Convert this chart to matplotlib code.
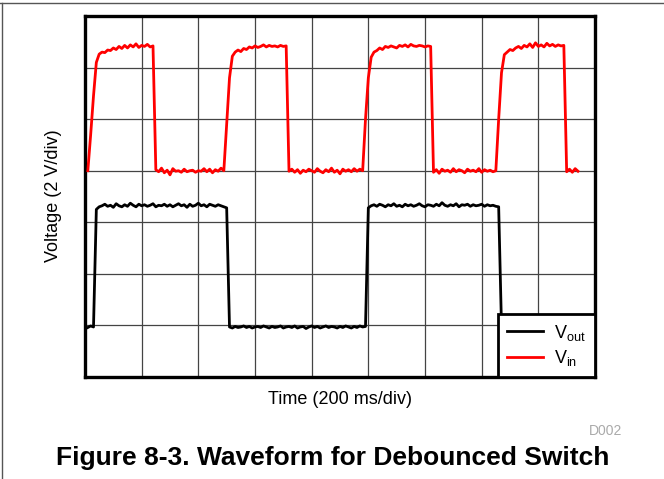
import numpy as np
import matplotlib
matplotlib.use("Agg")
import matplotlib.pyplot as plt
from matplotlib.lines import Line2D

plt.rcParams['font.family'] = ['Liberation Sans', 'DejaVu Sans']
plt.rcParams['mathtext.fontset'] = 'custom'
plt.rcParams['mathtext.rm'] = 'Liberation Sans'
plt.rcParams['mathtext.it'] = 'Liberation Sans'

# scope samples, time in divisions (200 ms/div), voltage in divisions (2 V/div)
T0 = 0.05
DT = 0.05

vin = [
    # first pulse
    4.00, 4.70, 5.45, 6.10, 6.26, 6.30, 6.29, 6.34, 6.33, 6.38, 6.35, 6.41,
    6.37, 6.43, 6.38, 6.44, 6.40, 6.46, 6.39, 6.43, 6.41, 6.45, 6.40, 6.42,
    # low
    4.02, 3.98, 4.05, 3.96, 4.01, 3.92, 4.04, 3.99, 4.00, 3.97, 4.03, 3.98,
    4.00, 4.01, 3.97, 4.00, 3.99, 4.04, 3.98, 4.03, 3.96, 4.02, 3.99, 4.05, 4.00,
    # second pulse
    4.90, 5.80, 6.22, 6.30, 6.34, 6.31, 6.37, 6.35, 6.40, 6.38, 6.42, 6.39,
    6.41, 6.44, 6.40, 6.43, 6.41, 6.42, 6.40, 6.43, 6.41, 6.42,
    # low
    3.99, 4.03, 3.97, 4.02, 3.95, 4.01, 3.98, 4.03, 4.00, 3.97, 4.04, 3.99,
    3.96, 4.02, 3.98, 4.05, 3.97, 4.01, 3.94, 4.03, 3.99, 4.02, 3.98, 4.04,
    3.99, 4.03, 4.00,
    # third pulse
    5.00, 5.80, 6.20, 6.30, 6.33, 6.38, 6.35, 6.41, 6.39, 6.42, 6.40, 6.38,
    6.43, 6.41, 6.44, 6.40, 6.45, 6.42, 6.41, 6.43, 6.42, 6.40, 6.42, 6.41,
    # low
    3.97, 4.02, 3.95, 4.03, 3.99, 4.01, 3.97, 4.04, 3.98, 4.02, 4.00, 3.96,
    4.03, 3.99, 4.01, 3.98, 4.04, 3.97, 4.02, 3.99, 4.01, 3.98, 4.00,
    # fourth pulse
    5.00, 5.90, 6.25, 6.30, 6.35, 6.33, 6.38, 6.41, 6.37, 6.43, 6.40, 6.46,
    6.39, 6.48, 6.41, 6.44, 6.40, 6.47, 6.42, 6.45, 6.41, 6.44, 6.42, 6.43,
    # low
    3.98, 4.03, 3.97, 4.04, 3.99,
]

vout = [
    0.96, 0.99, 0.97,
    # high
    3.25, 3.30, 3.32, 3.35, 3.31, 3.33, 3.29, 3.36, 3.32, 3.30,
    3.34, 3.31, 3.37, 3.33, 3.30, 3.35, 3.32, 3.34, 3.31, 3.33,
    3.36, 3.30, 3.33, 3.32, 3.35, 3.31, 3.34, 3.30, 3.33, 3.36,
    3.32, 3.34, 3.29, 3.35, 3.31, 3.33, 3.37, 3.32, 3.34, 3.30,
    3.35, 3.33, 3.31, 3.34, 3.32, 3.30, 3.28,
    # low
    0.97, 0.95, 0.98, 0.96, 0.97, 0.99, 0.96, 0.98, 0.95, 0.97,
    0.98, 0.96, 0.99, 0.97, 0.95, 0.98, 0.96, 0.97, 0.99, 0.95,
    0.97, 0.98, 0.96, 0.99, 0.95, 0.97, 0.98, 0.94, 0.97, 0.99,
    0.96, 0.98, 0.95, 0.97, 0.99, 0.96, 0.98, 0.97, 0.95, 0.98,
    0.96, 0.99, 0.97, 0.95, 0.98, 0.96, 0.99, 0.97, 0.98,
    # high
    3.28, 3.32, 3.34, 3.31, 3.35, 3.33, 3.30, 3.34, 3.32, 3.36,
    3.31, 3.33, 3.30, 3.35, 3.32, 3.34, 3.31, 3.33, 3.36, 3.32,
    3.30, 3.34, 3.33, 3.31, 3.35, 3.32, 3.38, 3.33, 3.31, 3.34,
    3.32, 3.36, 3.30, 3.34, 3.33, 3.35, 3.31, 3.34, 3.32, 3.33,
    3.35, 3.31, 3.34, 3.32, 3.33, 3.31, 3.30,
    # low
    0.97, 0.96, 0.98, 0.97, 0.95, 0.98, 0.96, 0.97, 0.99, 0.96,
    0.98, 0.97, 0.95, 0.98, 0.96, 0.97, 0.99, 0.96, 0.98, 0.97,
    0.96, 0.98, 0.97, 0.95, 0.98, 0.96, 0.97, 0.98,
]

n_xdiv = 9
n_ydiv = 7


def main():
    t_in = T0 + DT * np.arange(len(vin))
    t_out = T0 + DT * np.arange(len(vout))

    fig = plt.figure(figsize=(6.64, 4.79), dpi=100)
    ax = fig.add_axes([85 / 664, 1 - 377 / 479, 510 / 664, 361 / 479])

    ax.plot(t_out, vout, color='black', lw=2.0, zorder=3)
    ax.plot(t_in, vin, color='#ff0000', lw=2.0, zorder=3)

    ax.set_xlim(0, n_xdiv)
    ax.set_ylim(0, n_ydiv)
    ax.set_xticks(np.arange(1, n_xdiv))
    ax.set_yticks(np.arange(1, n_ydiv))
    ax.tick_params(length=0, labelbottom=False, labelleft=False)
    ax.grid(True, color='#444444', lw=0.9, zorder=1)
    for s in ax.spines.values():
        s.set_linewidth(2.4)
        s.set_color('black')

    handles = [Line2D([], [], color='black', lw=2.0),
               Line2D([], [], color='#ff0000', lw=2.0)]
    leg = ax.legend(handles, [r'V$_{\mathregular{out}}$', r'V$_{\mathregular{in}}$'],
                    loc='lower right', borderaxespad=0, fancybox=False,
                    fontsize=13, handlelength=2.0, handletextpad=0.6,
                    labelspacing=0.3, borderpad=0.5, framealpha=1)
    leg.get_frame().set_edgecolor('black')
    leg.get_frame().set_linewidth(2.0)
    leg.set_zorder(5)

    fig.text(53.5 / 664, 1 - 196 / 479, 'Voltage (2 V/div)', rotation=90,
             ha='center', va='center', fontsize=13)
    fig.text(340 / 664, 1 - 399 / 479, 'Time (200 ms/div)',
             ha='center', va='center', fontsize=13)
    fig.text(622 / 664, 1 - 431 / 479, 'D002', ha='right', va='center',
             fontsize=10, color='#aaaaaa')
    fig.text(333 / 664, 1 - 458 / 479, 'Figure 8-3. Waveform for Debounced Switch',
             ha='center', va='center', fontsize=19, fontweight='bold')

    # document frame lines
    fig.add_artist(Line2D([0, 1], [1 - 3 / 479, 1 - 3 / 479], color='#555555', lw=1.0))
    fig.add_artist(Line2D([1.5 / 664, 1.5 / 664], [0, 1 - 3 / 479], color='#555555', lw=1.0))

    fig.savefig('out.png', dpi=100)


if __name__ == '__main__':
    main()
